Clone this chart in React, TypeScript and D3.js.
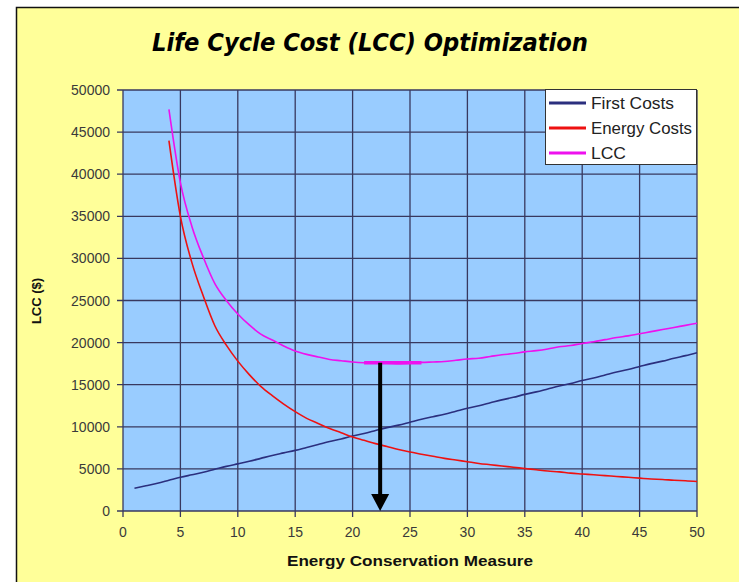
import React from 'react';
import { scaleLinear, line as d3Line, curveMonotoneX } from 'd3';

// chart values
const xFirst = [1, 2, 3, 4, 5, 6, 7, 8, 9, 10, 11, 12, 13, 14, 15, 16, 17, 18, 19, 20, 21, 22, 23, 24, 25, 26, 27, 28, 29, 30, 31, 32, 33, 34, 35, 36, 37, 38, 39, 40, 41, 42, 43, 44, 45, 46, 47, 48, 49, 50];
const firstCosts = [2700, 3000, 3300, 3650, 4000, 4300, 4600, 4950, 5300, 5600, 5900, 6250, 6600, 6900, 7200, 7550, 7900, 8250, 8550, 8900, 9200, 9550, 9900, 10200, 10550, 10900, 11200, 11500, 11850, 12200, 12500, 12850, 13200, 13500, 13850, 14150, 14500, 14850, 15150, 15500, 15800, 16150, 16500, 16800, 17150, 17500, 17800, 18150, 18450, 18800];

const xEnergy = [4, 5, 6, 7, 8, 9, 10, 11, 12, 13, 14, 15, 16, 17, 18, 19, 20, 21, 22, 23, 24, 25, 26, 27, 28, 29, 30, 31, 32, 33, 34, 35, 36, 37, 38, 39, 40, 41, 42, 43, 44, 45, 46, 47, 48, 49, 50];
const energyCosts = [44000, 35000, 29500, 25500, 22000, 19700, 17800, 16200, 14800, 13700, 12700, 11800, 11000, 10400, 9800, 9300, 8800, 8400, 8000, 7650, 7300, 7000, 6750, 6500, 6250, 6050, 5850, 5650, 5500, 5350, 5200, 5050, 4900, 4750, 4650, 4500, 4400, 4300, 4200, 4100, 4000, 3900, 3800, 3750, 3650, 3600, 3500];
const lccCosts = [47700, 39000, 33800, 30100, 27000, 25000, 23400, 22100, 21000, 20300, 19600, 19000, 18600, 18300, 18000, 17850, 17700, 17600, 17550, 17550, 17500, 17550, 17650, 17700, 17750, 17900, 18050, 18150, 18350, 18550, 18700, 18900, 19050, 19250, 19500, 19650, 19900, 20100, 20350, 20600, 20800, 21050, 21300, 21550, 21800, 22050, 22300];

const optimumRange = [21, 26];
const optimumValue = 17600;
const optimumX = 22.4;

const xTicks = [0, 5, 10, 15, 20, 25, 30, 35, 40, 45, 50];
const yTicks = [0, 5000, 10000, 15000, 20000, 25000, 30000, 35000, 40000, 45000, 50000];

const seriesNames = ['First Costs', 'Energy Costs', 'LCC'];
const seriesColors = ['#2b2f7e', '#ee1111', '#ee11ee'];

const W = 739;
const H = 582;
const plot = { left: 123, right: 697, top: 90, bottom: 511 };
const gridColor = '#38385f';
const tickFont = 'Liberation Sans, Arial, sans-serif';

export default function App() {
  const x = scaleLinear().domain([0, 50]).range([plot.left, plot.right]);
  const y = scaleLinear().domain([0, 50000]).range([plot.bottom, plot.top]);

  const mk = (xs: number[], ys: number[]) =>
    d3Line<number>()
      .x((_, i) => x(xs[i]))
      .y((d) => y(d))
      .curve(curveMonotoneX)(ys) || '';

  const series = [
    { xs: xFirst, ys: firstCosts },
    { xs: xEnergy, ys: energyCosts },
    { xs: xEnergy, ys: lccCosts },
  ];

  const ax = x(optimumX);
  const ay = y(optimumValue);

  return (
    <svg width={W} height={H} style={{ position: 'absolute', left: 0, top: 0, background: '#fff' }}>
      <rect x={16.5} y={7.5} width={W} height={H} fill="#ffff99" stroke="#111" strokeWidth={1.5} />

      <text x={370} y={51} textAnchor="middle" fontFamily="DejaVu Sans, sans-serif" fontWeight="bold"
        fontStyle="italic" fontSize={25} textLength={436} lengthAdjust="spacingAndGlyphs" fill="#000">
        Life Cycle Cost (LCC) Optimization
      </text>

      <rect x={plot.left} y={plot.top} width={plot.right - plot.left} height={plot.bottom - plot.top} fill="#99ccff" />

      {xTicks.map((t) => (
        <line key={'gx' + t} x1={x(t)} x2={x(t)} y1={plot.top} y2={plot.bottom + 6} stroke={gridColor} strokeWidth={1.3} />
      ))}
      {yTicks.map((t) => (
        <line key={'gy' + t} x1={plot.left - 6} x2={plot.right} y1={y(t)} y2={y(t)} stroke={gridColor} strokeWidth={1.3} />
      ))}

      {yTicks.map((t) => (
        <text key={'ty' + t} x={110} y={y(t) + 5} textAnchor="end" fontFamily={tickFont} fontSize={14} fill="#3a3a3a">
          {t}
        </text>
      ))}
      {xTicks.map((t) => (
        <text key={'tx' + t} x={x(t)} y={537} textAnchor="middle" fontFamily={tickFont} fontSize={14} fill="#3a3a3a">
          {t}
        </text>
      ))}

      {series.map((s, i) => (
        <path key={'s' + i} d={mk(s.xs, s.ys)} fill="none" stroke={seriesColors[i]} strokeWidth={1.6} />
      ))}

      <line x1={x(optimumRange[0])} x2={x(optimumRange[1])} y1={ay} y2={ay} stroke="#ee11ee" strokeWidth={3.5} />
      <line x1={ax} x2={ax} y1={ay} y2={plot.bottom - 14} stroke="#000" strokeWidth={4} />
      <path d={`M${ax - 9},${plot.bottom - 17} L${ax + 9},${plot.bottom - 17} L${ax},${plot.bottom} Z`} fill="#000" />

      <text x={410} y={566} textAnchor="middle" fontFamily={tickFont} fontWeight="bold" fontSize={15}
        textLength={246} lengthAdjust="spacingAndGlyphs" fill="#111">
        Energy Conservation Measure
      </text>
      <text transform="translate(41,301) rotate(-90)" textAnchor="middle" fontFamily={tickFont}
        fontWeight="bold" fontSize={13} fill="#111">
        LCC ($)
      </text>

      <g>
        <rect x={545.5} y={89.5} width={151} height={75} fill="#fff" stroke="#333" strokeWidth={1} />
        {seriesNames.map((n, i) => (
          <g key={n}>
            <line x1={549} x2={586} y1={103 + i * 25} y2={103 + i * 25} stroke={seriesColors[i]} strokeWidth={3} />
            <text x={591} y={109 + i * 25} fontFamily={tickFont} fontSize={16} fill="#222"
              textLength={n === 'First Costs' ? 83 : n === 'Energy Costs' ? 101 : 35} lengthAdjust="spacingAndGlyphs">
              {n}
            </text>
          </g>
        ))}
      </g>
    </svg>
  );
}
